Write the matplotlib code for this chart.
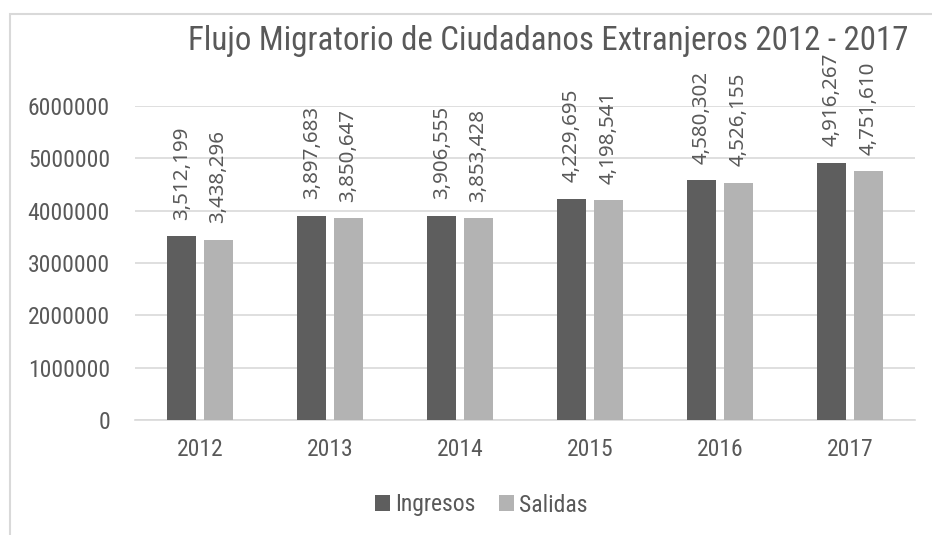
import matplotlib
matplotlib.use('Agg')
import matplotlib.pyplot as plt
import numpy as np
from matplotlib.patches import Rectangle

years = ['2012', '2013', '2014', '2015', '2016', '2017']
ingresos = [3512199, 3897683, 3906555, 4229695, 4580302, 4916267]
salidas = [3438296, 3850647, 3853428, 4198541, 4526155, 4751610]

dark = '#5e5e5e'
light = '#b3b3b3'
txt = '#595959'
narrow = ['Roboto Condensed', 'DejaVu Sans Condensed', 'Roboto', 'DejaVu Sans']

fig = plt.figure(figsize=(9.32, 5.35), dpi=100)
ax = fig.add_axes([135/932, 1-420/535, 780/932, 314/535])

x = np.arange(len(years))
w = 0.223
off = 0.14
b1 = ax.bar(x - off, ingresos, w, color=dark, label='Ingresos', zorder=3)
b2 = ax.bar(x + off, salidas, w, color=light, label='Salidas', zorder=3)

for bars, vals in ((b1, ingresos), (b2, salidas)):
    for r, v in zip(bars, vals):
        ax.annotate(f'{v:,}', (r.get_x() + r.get_width()/2, v),
                    xytext=(0, 12), textcoords='offset points',
                    rotation=90, ha='center', va='bottom',
                    fontsize=14.8, family=['Noto Sans', 'DejaVu Sans'],
                    color=txt, annotation_clip=False)

ax.set_xlim(-0.5, 5.5)
ax.set_ylim(0, 6000000)
ax.set_yticks(np.arange(0, 6000001, 1000000))
ax.set_yticklabels([str(v) for v in range(0, 6000001, 1000000)])
ax.set_xticks(x)
ax.set_xticklabels(years)
ax.yaxis.grid(True, color='#d9d9d9', linewidth=1.2, zorder=0)
for s in ['top', 'right', 'left']:
    ax.spines[s].set_visible(False)
ax.spines['bottom'].set_color('#d9d9d9')
ax.spines['bottom'].set_linewidth(1.2)
ax.tick_params(axis='both', length=0, labelcolor=txt, labelsize=17)
ax.tick_params(axis='y', pad=18)
ax.tick_params(axis='x', pad=13)
for lab in ax.get_xticklabels() + ax.get_yticklabels():
    lab.set_family(narrow)

title = fig.text(548/932, 1-50/535, 'Flujo Migratorio de Ciudadanos Extranjeros 2012 - 2017',
                 ha='center', va='baseline', fontsize=22, color=txt, family=narrow)
# fit the title to the width it has in the original (about 720 px)
r = fig.canvas.get_renderer()
tw = title.get_window_extent(r).width
title.set_fontsize(22 * 720 / tw)

leg = fig.legend(handles=[b1, b2], loc='center', bbox_to_anchor=(481/932, 1-505/535),
                 ncol=2, frameon=False, handlelength=0.65, handleheight=0.65,
                 handletextpad=0.2, columnspacing=1.0,
                 prop={'family': narrow, 'size': 17})
for t in leg.get_texts():
    t.set_color(txt)

# chart border (only top and left show in the crop)
fig.patches.append(Rectangle((10/932, -0.1), 1.1, (1-14/535) + 0.1,
                             transform=fig.transFigure, fill=False,
                             edgecolor='#d9d9d9', linewidth=1.5, clip_on=False))

fig.savefig('out.png', dpi=100)
